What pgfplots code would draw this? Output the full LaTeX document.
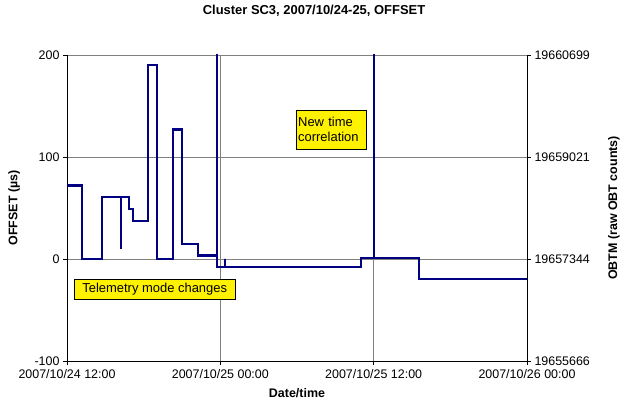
\documentclass[border=0pt]{standalone}
\usepackage{pgfplots}
\pgfplotsset{compat=1.18}
\usepackage{fontspec}
\setmainfont{Liberation Sans}
\definecolor{navyline}{RGB}{0,0,128}
\definecolor{gridgray}{RGB}{128,128,128}
\begin{document}
\begin{tikzpicture}
\useasboundingbox (-67bp,-43bp) rectangle (560bp,361bp);
\pgfplotsset{
  every axis/.append style={
    scale only axis, width=460bp, height=306bp,
    ymin=-100, ymax=200, xmin=0, xmax=36,
    /pgf/number format/assume math mode=true,
    tick label style={font=\fontsize{12.5}{14}\selectfont, black},
    tick align=outside, major tick length=4bp,
    tick style={black, line width=0.7bp},
    axis line style={black, line width=0.8bp},
  }
}
\begin{axis}[
  at={(0,0)}, anchor=south west,
  xtick={0,12,24,36},
  xticklabels={2007/10/24 12:00,2007/10/25 00:00,2007/10/25 12:00,2007/10/26 00:00},
  ytick={-100,0,100,200},
  yticklabels={-100,0,100,200},
  axis y line*=left,
  axis x line*=bottom,
  xmajorgrids, ymajorgrids,
  major grid style={gridgray, line width=0.7bp},
  xlabel={\bfseries Date/time},
  ylabel={\bfseries OFFSET (µs)},
  xlabel style={font=\fontsize{12.5}{14}\selectfont, at={(axis description cs:0.5,-0.105)}, anchor=center},
  ylabel style={font=\fontsize{12.5}{14}\selectfont, at={(axis description cs:-0.115,0.5)}, anchor=center},
  title={\bfseries Cluster SC3, 2007/10/24-25, OFFSET},
  title style={font=\fontsize{13}{15}\selectfont, at={(axis description cs:0.537,1.124)}, anchor=center},
  xticklabel style={yshift=-1bp},
  clip=true,
]
\addplot[navyline, line width=2.3bp, line join=miter] coordinates {
(0,72) (1.17,72) (1.17,0) (2.72,0) (2.72,61) (4.23,61) (4.23,10) (4.23,61) (4.85,61) (4.85,49) (5.19,49) (5.19,37.5) (6.34,37.5) (6.34,190) (7.02,190) (7.02,0) (8.32,0) (8.32,127) (9.0,127) (9.0,15) (10.25,15) (10.25,3.5) (11.74,3.5) (11.74,250) (11.74,-8) (12.34,-8) (12.34,0) (12.34,-8) (23.0,-8) (23.0,1) (24.03,1) (24.03,250) (24.03,1) (27.55,1) (27.55,-19.5) (36,-19.5)
};
\node[draw=black, fill=yellow, anchor=north west, align=left, inner sep=2bp, font=\fontsize{13}{15}\selectfont, text width=66bp, minimum height=39bp] at (axis cs:17.92,146) {New time\\correlation};
\node[draw=black, fill=yellow, anchor=north west, align=left, inner sep=2bp, font=\fontsize{13}{15}\selectfont, minimum width=161bp, minimum height=20bp] at (axis cs:0.55,-19.6) {Telemetry mode changes};
\end{axis}
\begin{axis}[
  at={(0,0)}, anchor=south west,
  axis x line=none,
  axis y line*=right,
  ytick={-100,0,100,200},
  yticklabels={19655666,19657344,19659021,19660699},
  ylabel={\bfseries OBTM (raw OBT counts)},
  ylabel style={font=\fontsize{12.5}{14}\selectfont, at={(axis description cs:1.189,0.5)}, anchor=center, rotate=0},
]
\addplot[draw=none] coordinates {(0,0)};
\end{axis}
\end{tikzpicture}
\end{document}
